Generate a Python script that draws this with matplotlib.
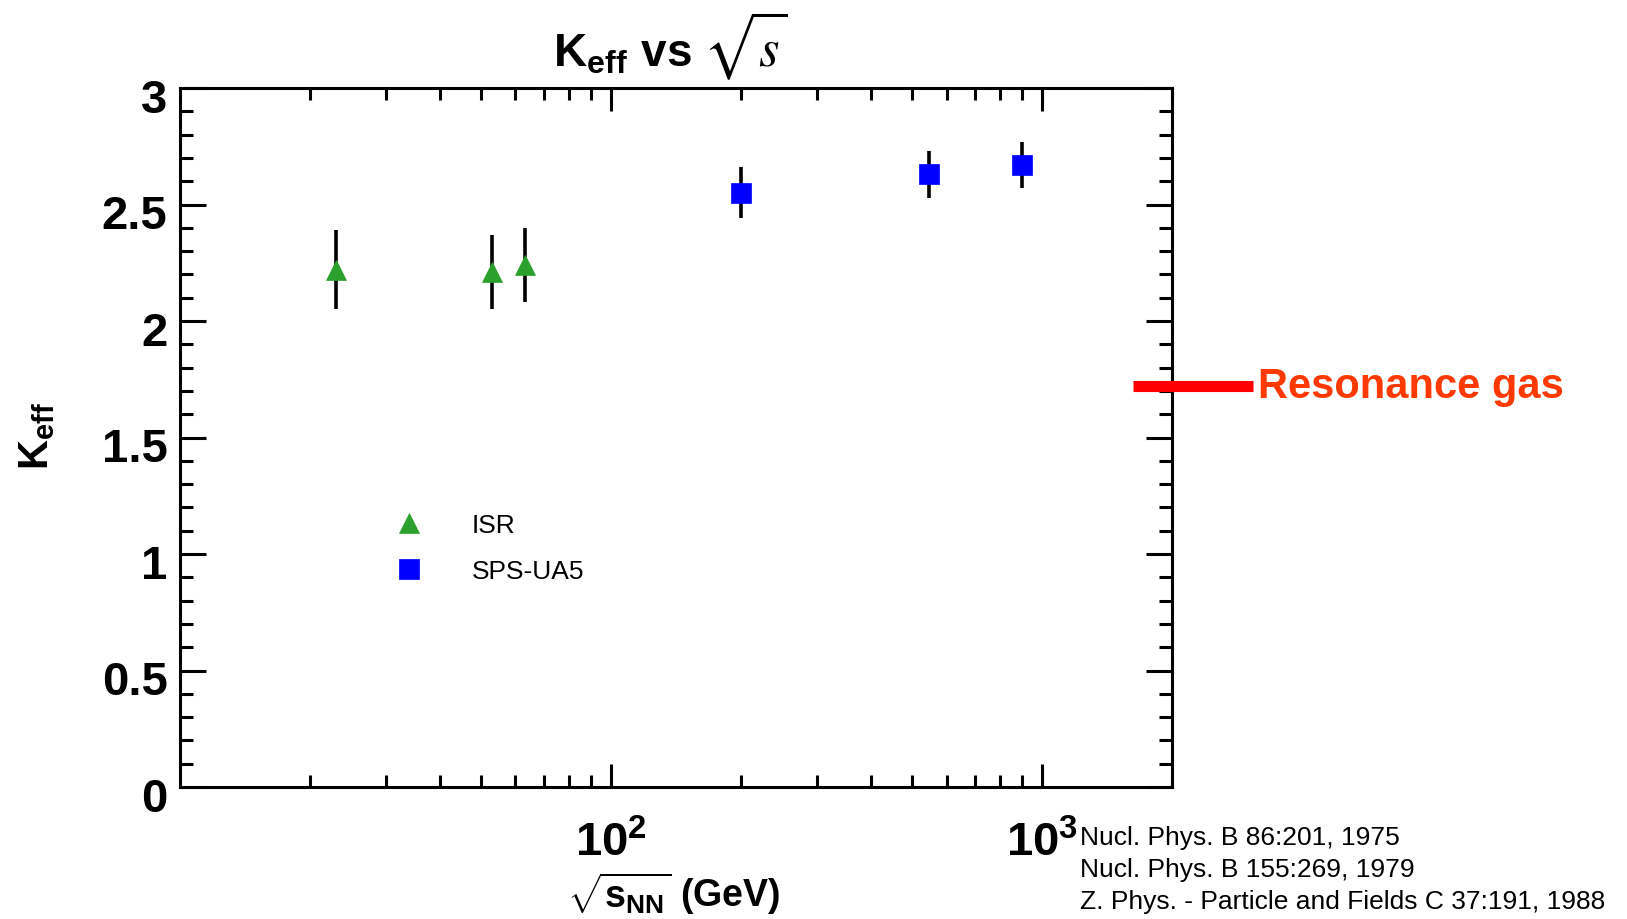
import numpy as np
import matplotlib.pyplot as plt
import matplotlib.transforms as mtransforms
from matplotlib.ticker import MultipleLocator, LogLocator, NullFormatter

plt.rcParams['font.family'] = ['Liberation Sans', 'DejaVu Sans']
plt.rcParams['mathtext.fontset'] = 'custom'
plt.rcParams['mathtext.rm'] = 'Liberation Sans:bold'
plt.rcParams['mathtext.bf'] = 'Liberation Sans:bold'
plt.rcParams['mathtext.it'] = 'Liberation Sans:bold'
plt.rcParams['mathtext.sf'] = 'Liberation Sans:bold'

# ISR points (sqrt(s) in GeV, K_eff, error)
isr_energy = [23, 53, 63]
isr_keff = [2.22, 2.21, 2.24]
isr_err = [0.17, 0.16, 0.16]

# SPS-UA5 points
ua5_energy = [200, 546, 900]
ua5_keff = [2.55, 2.63, 2.67]
ua5_err = [0.11, 0.10, 0.10]

resonance_gas = 1.72

y_ticks = [0, 0.5, 1, 1.5, 2, 2.5, 3]
y_tick_labels = ['0', '0.5', '1', '1.5', '2', '2.5', '3']
x_ticks = [100, 1000]
x_tick_labels = [r'$\mathbf{10^{2}}$', r'$\mathbf{10^{3}}$']

references = ['Nucl. Phys. B 86:201, 1975',
              'Nucl. Phys. B 155:269, 1979',
              'Z. Phys. - Particle and Fields C 37:191, 1988']

W, H = 1627, 920
fig = plt.figure(figsize=(W / 100, H / 100), dpi=100)
ax = fig.add_axes([180 / W, 1 - 788 / H, 992 / W, 699 / H])

# error bars first, markers on top
ax.errorbar(isr_energy, isr_keff, yerr=isr_err, fmt='none', ecolor='black',
            elinewidth=2.6, capsize=0, zorder=2)
ax.errorbar(ua5_energy, ua5_keff, yerr=ua5_err, fmt='none', ecolor='black',
            elinewidth=2.6, capsize=0, zorder=2)
isr_line, = ax.plot(isr_energy, isr_keff, linestyle='none', marker='^', markersize=15,
                    color='#2ca02c', markeredgewidth=0.5, label='ISR', zorder=3)
ua5_line, = ax.plot(ua5_energy, ua5_keff, linestyle='none', marker='s', markersize=15,
                    color='#0000ff', markeredgewidth=0.5, label='SPS-UA5', zorder=3)

ax.set_xscale('log')
ax.set_xlim(10, 2000)
ax.set_ylim(0, 3)

ax.set_xticks(x_ticks, x_tick_labels, fontsize=34)
ax.xaxis.set_minor_locator(LogLocator(base=10, subs=np.arange(2, 10)))
ax.xaxis.set_minor_formatter(NullFormatter())
ax.set_yticks(y_ticks, y_tick_labels, fontsize=34, fontweight='bold')
ax.yaxis.set_minor_locator(MultipleLocator(0.1))

ax.tick_params(axis='both', which='both', direction='in', top=True, right=True, width=2.2)
ax.tick_params(axis='x', which='major', length=16.5, pad=24)
ax.tick_params(axis='x', which='minor', length=8.6)
ax.tick_params(axis='y', which='major', length=18.7, pad=9)
ax.tick_params(axis='y', which='minor', length=9.4)
for sp in ax.spines.values():
    sp.set_linewidth(2.2)

# y labels sit a little below their ticks in the original
shift = mtransforms.ScaledTranslation(0, -5 / 72, fig.dpi_scale_trans)
for lab in ax.get_yticklabels():
    lab.set_transform(lab.get_transform() + shift)

ax.set_xlabel(r'$\sqrt{\mathbf{s}_{\mathbf{NN}}}\ \mathbf{(GeV)}$', fontsize=27)
ax.xaxis.set_label_coords(0.498, -0.117)
ax.set_ylabel(r'$\mathbf{K_{eff}}$', fontsize=30)
ax.yaxis.set_label_coords(-0.124, 0.504)

# legend (markers only)
ax.legend(handles=[isr_line, ua5_line], loc='center left',
          bbox_to_anchor=(383 / W, 1 - 549 / H), bbox_transform=fig.transFigure,
          frameon=False, prop={'size': 19}, handlelength=2.0, handletextpad=1.35,
          labelspacing=0.85, borderpad=0, borderaxespad=0, numpoints=1)

# resonance gas level, drawn across the right edge
trans = ax.get_yaxis_transform()
ax.plot([0.961, 1.082], [resonance_gas, resonance_gas], transform=trans, color='#ff0000',
        linewidth=8, solid_capstyle='butt', clip_on=False, zorder=4)
ax.text(1.087, resonance_gas, 'Resonance gas', transform=trans, color='#ff3a00',
        fontsize=30, fontweight='bold', va='center', ha='left')

# title
fig.text(692 / W, 1 - 67 / H, r'$\mathbf{K_{eff}\ vs}$', ha='right', va='baseline', fontsize=33)
fig.text(703 / W, 1 - 66 / H, r'$\sqrt{s}$', math_fontfamily='stix', ha='left',
         va='baseline', fontsize=38)

# references
for i, ref in enumerate(references):
    fig.text(1080 / W, 1 - (838 + 32 * i) / H, ref, fontsize=19, va='center', ha='left')

fig.savefig('out.png', dpi=100)
